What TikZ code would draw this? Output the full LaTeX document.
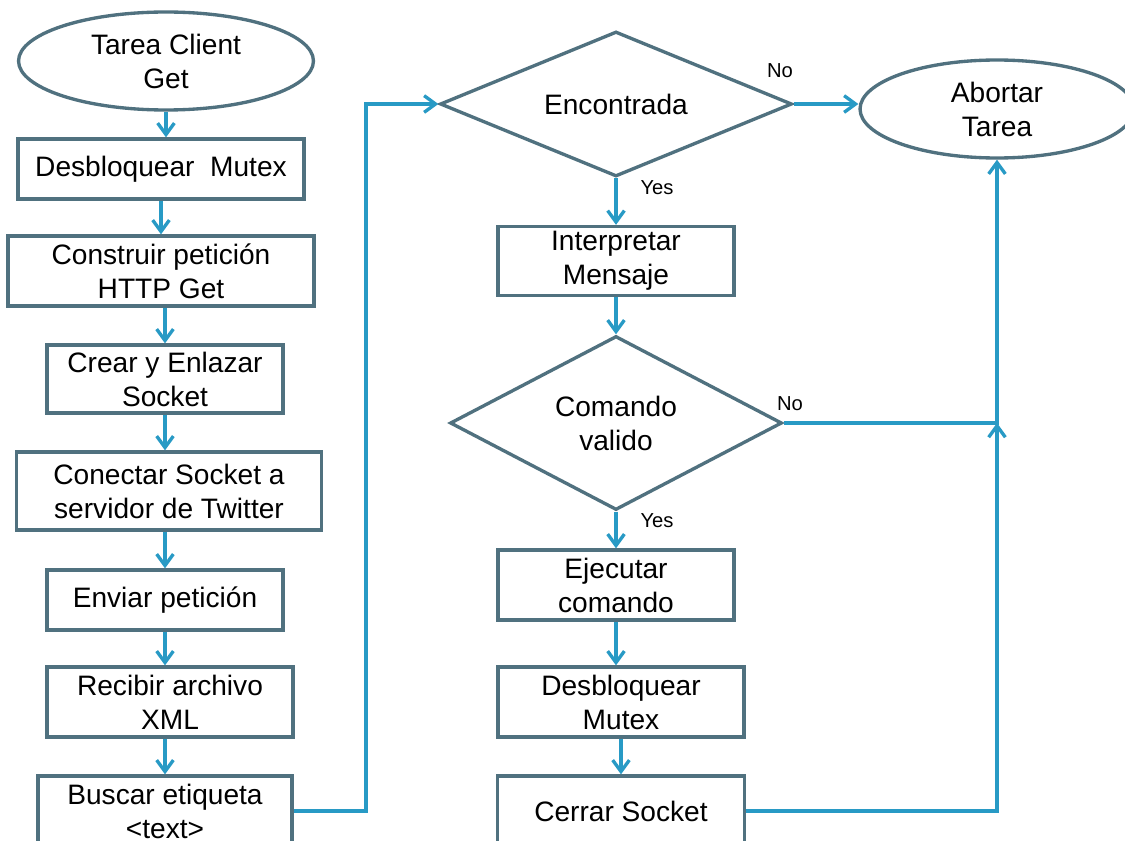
\documentclass[tikz,border=0pt]{standalone}
\usepackage{fontspec}
\setmainfont{Liberation Sans}
\usetikzlibrary{shapes.geometric,arrows.meta}
\definecolor{boxline}{RGB}{80,113,127}
\definecolor{flowline}{RGB}{40,154,197}

\begin{document}
\begin{tikzpicture}[x=0.02cm,y=-0.02cm,
        every node/.style={font=\fontsize{16}{19.3}\selectfont, align=center},
        proc/.style={draw=boxline, line width=1.9pt, rectangle, inner sep=0pt},
        term/.style={draw=boxline, line width=1.9pt, ellipse, inner sep=0pt},
        decision/.style={draw=boxline, line width=1.9pt, diamond, aspect=2, inner sep=0pt},
        flow/.style={draw=flowline, line width=1.9pt, -{Straight Barb[length=6.5pt,width=9.5pt]}},
        tag/.style={font=\fontsize{11.5}{13}\selectfont}]
        \useasboundingbox[fill=white] (0,0) rectangle (1125,841);
        \clip (0,0) rectangle (1125,841);
        % left column
        \node[term, minimum width=5.9cm, minimum height=1.96cm] (start) at (166,61) {Tarea Client\\Get};
        \node[proc, minimum width=5.72cm, minimum height=1.2cm] (unlock) at (161,169) {Desbloquear~~Mutex};
        \node[proc, minimum width=6.12cm, minimum height=1.4cm] (build) at (161,271) {Construir petición\\HTTP Get};
        \node[proc, minimum width=4.72cm, minimum height=1.36cm] (sock) at (165,379) {Crear y Enlazar\\Socket};
        \node[proc, minimum width=6.1cm, minimum height=1.56cm] (conn) at (169,491) {Conectar Socket a\\servidor de Twitter};
        \node[proc, minimum width=4.72cm, minimum height=1.2cm] (send) at (165,600) {Enviar petición};
        \node[proc, minimum width=4.92cm, minimum height=1.4cm] (recv) at (170,702) {Recibir archivo\\XML};
        \node[proc, minimum width=5.08cm, minimum height=1.4cm] (search) at (165,811) {Buscar etiqueta\\<text>};
        % right column
        \node[decision, minimum width=7.04cm, minimum height=2.9cm] (found) at (616,104) {Encontrada};
        \node[proc, minimum width=4.72cm, minimum height=1.38cm] (parse) at (616,261) {Interpretar\\Mensaje};
        \node[decision, minimum width=6.64cm, minimum height=3.48cm] (valid) at (616,423) {Comando\\valido};
        \node[proc, minimum width=4.72cm, minimum height=1.4cm] (exec) at (616,585) {Ejecutar\\comando};
        \node[proc, minimum width=4.92cm, minimum height=1.4cm] (unlock2) at (621,702) {Desbloquear\\Mutex};
        \node[proc, minimum width=4.94cm, minimum height=1.4cm] (close) at (621,811) {Cerrar Socket};
        \node[term, minimum width=5.48cm, minimum height=1.96cm] (abort) at (997,109) {Abortar\\Tarea};
        % labels
        \node[tag] (no1) at (780,71) {No};
        \node[tag] (yes1) at (657,188) {Yes};
        \node[tag] (no2) at (790,404) {No};
        \node[tag] (yes2) at (657,521) {Yes};
        \coordinate (up) at (366,104);
        \coordinate (join) at (abort.south |- valid.east);
        % connectors
        \draw[flow] (start.south) -- (start.south |- unlock.north);
        \draw[flow] (unlock.south) -- (unlock.south |- build.north);
        \draw[flow] (build.south -| sock) -- (sock.north);
        \draw[flow] (sock.south) -- (sock.south |- conn.north);
        \draw[flow] (conn.south -| send) -- (send.north);
        \draw[flow] (send.south) -- (send.south |- recv.north);
        \draw[flow] (recv.south -| search) -- (search.north);
        \draw[flow] (search.east) -| (up) -- (found.west);
        \draw[flow] (found.east) -- (found.east -| abort.west);
        \draw[flow] (found.south) -- (parse.north);
        \draw[flow] (parse.south) -- (valid.north);
        \draw[flow] (valid.south) -- (exec.north);
        \draw[flow] (exec.south) -- (exec.south |- unlock2.north);
        \draw[flow] (unlock2.south) -- (close.north);
        \draw[flow] (valid.east) -- (join) -- (abort.south);
        \draw[flow] (close.east) -| (join);
    \end{tikzpicture}
\end{document}
